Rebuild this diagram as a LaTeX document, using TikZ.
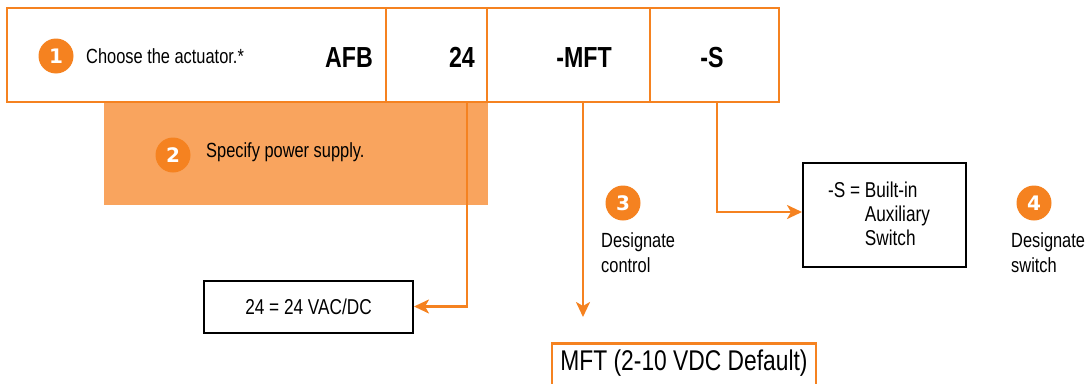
\documentclass[tikz,border=0pt]{standalone}
\usepackage{fontspec}
\setmainfont{Liberation Sans}[FakeStretch=0.8]
\newfontfamily\numfont{DejaVu Sans}
\usepackage{xcolor}
\usetikzlibrary{arrows.meta, positioning, calc}
\definecolor{belorange}{HTML}{F58220}
\definecolor{bellight}{HTML}{F9A45E}

\begin{document}
\begin{tikzpicture}[x=1pt, y=-1pt]
            % Define block styles
            \tikzstyle{cell} = [draw=belorange, line width=2.5pt, rectangle, minimum height=94pt, inner sep=0pt, outer sep=0pt, anchor=north west]
            \tikzstyle{numdot} = [circle, fill=belorange, text=white, minimum size=35pt, inner sep=0pt, font=\numfont\bfseries\fontsize{20}{20}\selectfont]
            \tikzstyle{bodytxt} = [inner sep=0pt, font=\fontsize{20.5}{25}\selectfont]
            \tikzstyle{codetxt} = [inner sep=0pt, font=\bfseries\fontsize{29}{32}\selectfont]
            \tikzstyle{valbox} = [draw=black, line width=2pt, rectangle]
            \tikzstyle{boxtxt} = [inner sep=0pt, font=\fontsize{21.5}{24}\selectfont]
            \tikzstyle{conn} = [draw=belorange, line width=2.5pt, -{Stealth[length=15pt, width=14pt, inset=4pt]}]

            \useasboundingbox (0,0) rectangle (1087,383);

            % Shaded band of step 2
            \node[fill=bellight, minimum width=384pt, minimum height=102pt, inner sep=0pt, anchor=north west] (band) at (104,103) {};

            % Top row of the type code
            \node[cell, minimum width=379pt] (cellafb) at (7,8) {};
            \node[cell, minimum width=101pt] (cellvolt) at (386,8) {};
            \node[cell, minimum width=163pt] (cellctrl) at (487,8) {};
            \node[cell, minimum width=129pt] (cellsw) at (650,8) {};

            \node[numdot] (num1) at (56,56) {1};
            \node[bodytxt, anchor=base west] (txt1) at (86,63) {Choose the actuator.*};
            \node[codetxt, anchor=base east] (afb) at (373,67) {AFB};
            \node[codetxt, anchor=base east] (volt) at (475,67) {24};
            \node[codetxt, anchor=base] (ctrl) at (584,67) {-MFT};
            \node[codetxt, anchor=base] (sw) at (712,67) {-S};

            \node[numdot] (num2) at (173,155) {2};
            \node[bodytxt, anchor=base west] (txt2) at (206,157) {Specify power supply.};

            % Option boxes
            \node[valbox, boxtxt, inner sep=0pt, minimum width=209pt, minimum height=52pt] (vacbox) at (308.5,306.5) {24 = 24 VAC/DC};
            \node[valbox, minimum width=163pt, minimum height=104pt] (swbox) at (884.5,215) {};
            \node[boxtxt, align=left] (swtxt) at (879,214) {-S = Built-in\\\phantom{-S = }Auxiliary\\\phantom{-S = }Switch};
            \node[draw=belorange, line width=2.5pt, minimum width=264pt, inner xsep=0pt, inner ysep=0pt, text height=27pt, text depth=25pt, anchor=north, font=\fontsize{28.5}{30}\selectfont] (mftbox) at (684,342) {MFT (2-10 VDC Default)};

            % Steps 3 and 4
            \node[numdot] (num3) at (623,203) {3};
            \node[bodytxt, align=left, anchor=north west] (txt3) at (601,232.5) {Designate\\control};
            \node[numdot] (num4) at (1034,203) {4};
            \node[bodytxt, align=left, anchor=north west] (txt4) at (1011,232.5) {Designate\\switch};

            % Connectors
            \coordinate (mfttip) at (583,317);
            \draw[conn] ([xshift=-20pt]cellvolt.south east) |- (vacbox.east);
            \draw[conn] ([xshift=96pt]cellctrl.south west) -- (mfttip);
            \draw[conn] ([xshift=67pt]cellsw.south west) |- ([yshift=3pt]swbox.west);
\end{tikzpicture}
\end{document}
